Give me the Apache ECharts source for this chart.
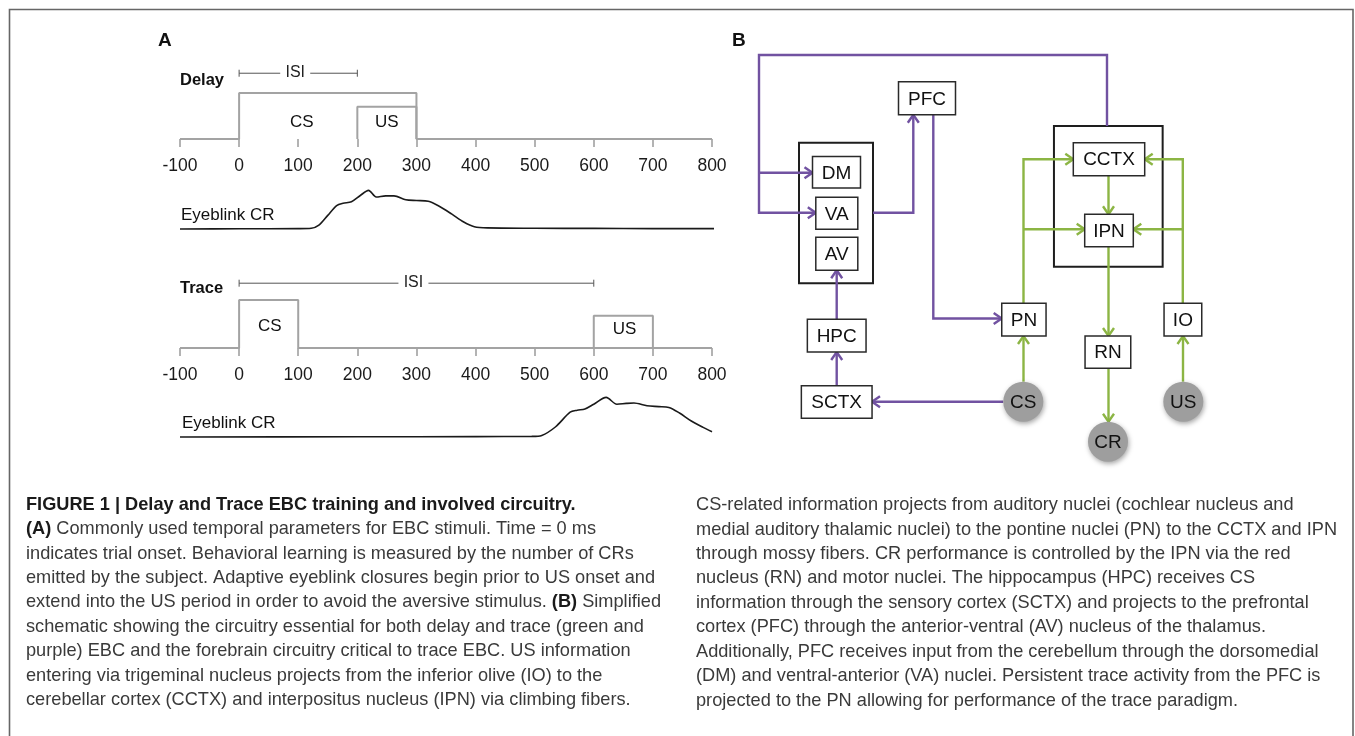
<!DOCTYPE html>
<html>
<head>
<meta charset="utf-8">
<script src="https://cdn.jsdelivr.net/npm/echarts@6/dist/echarts.min.js"></script>
<style>
html,body{margin:0;padding:0;background:#fff;}
#chart{width:1355px;height:736px;}
</style>
</head>
<body>
<div id="chart"></div>
<script>
// ---------- Panel A: stimulus timing (ms) ----------
const timeTicks = [-100, 0, 100, 200, 300, 400, 500, 600, 700, 800];
// [onset, offset, relative height]
const delayCS = [0, 300, 1];
const delayUS = [200, 300, 0.7];
const traceCS = [0, 100, 1];
const traceUS = [600, 700, 0.67];
// inter-stimulus interval brackets [start, end, height]
const delayISI = [0, 200, 1.43];
const traceISI = [0, 600, 1.35];
// stimulus names [label, time, height]
const delayLabels = [['CS', 106, 0.37], ['US', 250, 0.37]];
const traceLabels = [['CS', 52, 0.46], ['US', 652, 0.38]];
// eyelid closure (relative amplitude) over time
const delayCR = [[-100,0],[0,0.005],[100,0.01],[122,0.02],[135,0.1],[150,0.35],[165,0.6],[176,0.66],[190,0.7],[205,0.86],[219,0.99],[232,0.82],[248,0.85],[262,0.85],[282,0.75],[300,0.73],[320,0.71],[340,0.57],[360,0.38],[380,0.18],[398,0.06],[420,0.03],[500,0.02],[600,0.015],[700,0.01],[815,0.01]];
const traceCR = [[-100,0],[200,0.005],[400,0.01],[495,0.015],[512,0.04],[535,0.25],[560,0.62],[572,0.67],[585,0.7],[600,0.82],[621,0.99],[639,0.82],[655,0.84],[668,0.85],[690,0.78],[710,0.76],[727,0.74],[745,0.6],[765,0.4],[785,0.24],[800,0.13]];

// ---------- Panel B: circuit schematic ----------
// boxes [name, cx, cy, w, h]
const regionBoxes = [
  ['PFC', 187, 68.3, 57, 33],
  ['DM', 96.5, 142.3, 48, 31.5],
  ['VA', 96.8, 183.3, 42, 32],
  ['AV', 96.8, 223.7, 42, 33],
  ['CCTX', 369, 129.2, 71.4, 33],
  ['IPN', 369, 200.5, 48.6, 32.4],
  ['HPC', 96.7, 305.7, 58.7, 32.7],
  ['SCTX', 96.7, 372, 70.7, 32.6],
  ['PN', 283.9, 289.7, 44.3, 32.7],
  ['RN', 367.9, 322.2, 45.7, 32.3],
  ['IO', 442.9, 289.7, 37.7, 32.7]
];
// enclosing structures (thalamus, cerebellum) [cx, cy, w, h]
const groupBoxes = [
  [96, 183, 74, 140.6],
  [368.3, 166.3, 108.7, 140.7]
];
// stimulus / response nodes [name, cx, cy]
const ioNodes = [['CS', 283.3, 371.7], ['CR', 368, 411.7], ['US', 443.3, 371.7]];
// pathways: waypoints, pathway type, arrowhead at end
const pathways = [
  {kind: 'forebrain', arrow: true, pts: [[367,96],[367,25],[19,25],[19,182.7],[75.8,182.7]]},
  {kind: 'forebrain', arrow: true, pts: [[19,142.7],[72.5,142.7]]},
  {kind: 'forebrain', arrow: true, pts: [[133,182.7],[173.3,182.7],[173.3,84.8]]},
  {kind: 'forebrain', arrow: true, pts: [[193.3,84.8],[193.3,288.5],[261.7,288.5]]},
  {kind: 'forebrain', arrow: true, pts: [[96.7,289.3],[96.7,240.2]]},
  {kind: 'forebrain', arrow: true, pts: [[96.7,355.7],[96.7,322]]},
  {kind: 'forebrain', arrow: true, pts: [[263.3,371.7],[132,371.7]]},
  {kind: 'cerebellar', arrow: true, pts: [[283.5,351.7],[283.5,306]]},
  {kind: 'cerebellar', arrow: true, pts: [[283.5,273.3],[283.5,129.3],[333.3,129.3]]},
  {kind: 'cerebellar', arrow: true, pts: [[283.5,199.3],[344.7,199.3]]},
  {kind: 'cerebellar', arrow: true, pts: [[442.8,273.3],[442.8,129.3],[404.7,129.3]]},
  {kind: 'cerebellar', arrow: true, pts: [[442.8,199.3],[393.3,199.3]]},
  {kind: 'cerebellar', arrow: true, pts: [[368.5,145.7],[368.5,184.3]]},
  {kind: 'cerebellar', arrow: true, pts: [[368.5,216.7],[368.5,306]]},
  {kind: 'cerebellar', arrow: true, pts: [[368.5,338.3],[368.5,391.7]]},
  {kind: 'cerebellar', arrow: true, pts: [[443,351.7],[443,306]]}
];

// ---------- Caption ----------
const captionTitle = 'FIGURE 1 | Delay and Trace EBC training and involved circuitry.';
const captionLeft = [
  '{b|(A)} Commonly used temporal parameters for EBC stimuli. Time = 0 ms',
  'indicates trial onset. Behavioral learning is measured by the number of CRs',
  'emitted by the subject. Adaptive eyeblink closures begin prior to US onset and',
  'extend into the US period in order to avoid the aversive stimulus. {b|(B)} Simplified',
  'schematic showing the circuitry essential for both delay and trace (green and',
  'purple) EBC and the forebrain circuitry critical to trace EBC. US information',
  'entering via trigeminal nucleus projects from the inferior olive (IO) to the',
  'cerebellar cortex (CCTX) and interpositus nucleus (IPN) via climbing fibers.'
];
const captionRight = [
  'CS-related information projects from auditory nuclei (cochlear nucleus and',
  'medial auditory thalamic nuclei) to the pontine nuclei (PN) to the CCTX and IPN',
  'through mossy fibers. CR performance is controlled by the IPN via the red',
  'nucleus (RN) and motor nuclei. The hippocampus (HPC) receives CS',
  'information through the sensory cortex (SCTX) and projects to the prefrontal',
  'cortex (PFC) through the anterior-ventral (AV) nucleus of the thalamus.',
  'Additionally, PFC receives input from the cerebellum through the dorsomedial',
  '(DM) and ventral-anterior (VA) nuclei. Persistent trace activity from the PFC is',
  'projected to the PN allowing for performance of the trace paradigm.'
];

// ---------- helpers ----------
const FONT = '"Liberation Sans", Arial, sans-serif';
const STIM_GRAY = '#a3a3a3';
const PURPLE = '#7152a1';
const GREEN = '#8cb544';

function pulse(stim, from, to) {
  return [[from, 0], [stim[0], 0], [stim[0], stim[2]], [stim[1], stim[2]], [stim[1], 0], [to, 0]];
}
function usPulse(stim) {
  return [[stim[0], 0], [stim[0], stim[2]], [stim[1], stim[2]], [stim[1], 0]];
}

function isiSeries(isi, gridIdx) {
  return {
    type: 'custom', xAxisIndex: gridIdx, yAxisIndex: gridIdx, silent: true,
    data: [isi],
    renderItem: function (params, api) {
      const a = api.coord([api.value(0), api.value(2)]);
      const b = api.coord([api.value(1), api.value(2)]);
      const mid = (a[0] + b[0]) / 2 - 3;
      const gap = 15;
      const st = {stroke: '#555', lineWidth: 1};
      return {type: 'group', children: [
        {type: 'line', shape: {x1: a[0], y1: a[1], x2: mid - gap, y2: a[1]}, style: st},
        {type: 'line', shape: {x1: mid + gap, y1: a[1], x2: b[0], y2: b[1]}, style: st},
        {type: 'line', shape: {x1: a[0], y1: a[1] - 3.5, x2: a[0], y2: a[1] + 3.5}, style: st},
        {type: 'line', shape: {x1: b[0], y1: b[1] - 3.5, x2: b[0], y2: b[1] + 3.5}, style: st},
        {type: 'text', x: mid, y: a[1] - 1, style: {text: 'ISI', fill: '#222', font: '16px ' + FONT, align: 'center', verticalAlign: 'middle'}}
      ]};
    }
  };
}

function stimLine(data, gridIdx) {
  return {
    type: 'line', xAxisIndex: gridIdx, yAxisIndex: gridIdx, data: data,
    showSymbol: false, symbol: 'none', silent: true, animation: false,
    lineStyle: {color: STIM_GRAY, width: 2}
  };
}

function labelSeries(labels, gridIdx) {
  return {
    type: 'custom', xAxisIndex: gridIdx, yAxisIndex: gridIdx, silent: true,
    data: labels.map(l => [l[1], l[2]]),
    renderItem: function (params, api) {
      const c = api.coord([api.value(0), api.value(1)]);
      return {type: 'text', x: c[0], y: c[1], style: {text: labels[params.dataIndex][0], fill: '#111',
        font: '17px ' + FONT, align: 'center', verticalAlign: 'middle'}};
    }
  };
}

function crLine(data, gridIdx) {
  return {
    type: 'line', xAxisIndex: gridIdx, yAxisIndex: gridIdx, data: data,
    showSymbol: false, symbol: 'none', smooth: 0.3, clip: false, silent: true,
    lineStyle: {color: '#1a1a1a', width: 1.6}
  };
}

// panel A layout: four stacked strips sharing the same time scale
const A_LEFT = 180, A_WIDTH = 532;
const grids = [
  {left: A_LEFT, width: A_WIDTH, top: 70, height: 69},
  {left: A_LEFT, width: A_WIDTH, top: 190, height: 39},
  {left: A_LEFT, width: A_WIDTH, top: 276, height: 72},
  {left: A_LEFT, width: A_WIDTH, top: 397, height: 40},
  {left: 740, width: 480, top: 30, height: 440}
];

function timeAxis(gridIdx, showTicks) {
  return {
    type: 'value', gridIndex: gridIdx, min: -100, max: 800, interval: 100,
    offset: showTicks ? 5 : 0,
    axisLine: {show: false},
    axisTick: {show: showTicks, length: 8, lineStyle: {color: '#9a9a9a', width: 1.5}},
    axisLabel: {show: showTicks, margin: 13, color: '#1a1a1a', fontSize: 17.5, fontFamily: FONT,
      customValues: timeTicks, formatter: v => String(v)},
    splitLine: {show: false}
  };
}
function levelAxis(gridIdx, max) {
  return {type: 'value', gridIndex: gridIdx, min: 0, max: max, show: false, splitLine: {show: false}};
}

// schematic series
const boxSeries = {
  type: 'custom', xAxisIndex: 4, yAxisIndex: 4, silent: true,
  data: regionBoxes.map(b => [b[1], b[2], b[3], b[4]]),
  renderItem: function (params, api) {
    const c = api.coord([api.value(0), api.value(1)]);
    const s = api.size([api.value(2), api.value(3)]);
    return {type: 'group', children: [
      {type: 'rect', shape: {x: c[0] - s[0] / 2, y: c[1] - s[1] / 2, width: s[0], height: s[1]},
        style: {fill: '#fff', stroke: '#2a2a2a', lineWidth: 1.5}},
      {type: 'text', x: c[0], y: c[1] + 1, style: {text: regionBoxes[params.dataIndex][0], fill: '#111',
        font: '19px ' + FONT, align: 'center', verticalAlign: 'middle'}}
    ]};
  }
};
const groupSeries = {
  type: 'custom', xAxisIndex: 4, yAxisIndex: 4, silent: true, z: 1,
  data: groupBoxes,
  renderItem: function (params, api) {
    const c = api.coord([api.value(0), api.value(1)]);
    const s = api.size([api.value(2), api.value(3)]);
    return {type: 'rect', shape: {x: c[0] - s[0] / 2, y: c[1] - s[1] / 2, width: s[0], height: s[1]},
      style: {fill: null, stroke: '#1e1e1e', lineWidth: 2}};
  }
};
const nodeSeries = {
  type: 'custom', xAxisIndex: 4, yAxisIndex: 4, silent: true, z: 3,
  data: ioNodes.map(n => [n[1], n[2]]),
  renderItem: function (params, api) {
    const c = api.coord([api.value(0), api.value(1)]);
    const r = api.size([20, 20])[0];
    return {type: 'group', children: [
      {type: 'circle', shape: {cx: c[0], cy: c[1], r: r},
        style: {fill: '#9e9e9e', shadowBlur: 5, shadowColor: 'rgba(0,0,0,0.35)', shadowOffsetX: 1, shadowOffsetY: 2}},
      {type: 'text', x: c[0], y: c[1] + 1, style: {text: ioNodes[params.dataIndex][0], fill: '#111',
        font: '19px ' + FONT, align: 'center', verticalAlign: 'middle'}}
    ]};
  }
};
const pathSeries = {
  type: 'custom', xAxisIndex: 4, yAxisIndex: 4, silent: true, z: 2,
  data: pathways.map(p => p.pts[0]),
  renderItem: function (params, api) {
    const p = pathways[params.dataIndex];
    const color = p.kind === 'forebrain' ? PURPLE : GREEN;
    const pts = p.pts.map(q => api.coord(q));
    const kids = [{type: 'polyline', shape: {points: pts}, style: {stroke: color, lineWidth: 2.4, fill: null}}];
    if (p.arrow) {
      const a = pts[pts.length - 2], b = pts[pts.length - 1];
      const dx = b[0] - a[0], dy = b[1] - a[1];
      const len = Math.hypot(dx, dy);
      const ux = dx / len, uy = dy / len;
      const L = 8, W = 5.5;
      kids.push({type: 'polyline', shape: {points: [
        [b[0] - ux * L - uy * W, b[1] - uy * L + ux * W], [b[0], b[1]], [b[0] - ux * L + uy * W, b[1] - uy * L - ux * W]
      ]}, style: {stroke: color, lineWidth: 2.4, fill: null, lineJoin: 'miter'}});
    }
    return {type: 'group', children: kids};
  }
};

// caption text width fitting (condensed caption face)
const CAP_FONT_SIZE = 18.5;
const measureCtx = document.createElement('canvas').getContext('2d');
measureCtx.font = CAP_FONT_SIZE + 'px "Liberation Sans"';
const capScale = 629 / measureCtx.measureText(captionLeft[2]).width;
const capRich = {
  b: {fontWeight: 'bold', fontSize: CAP_FONT_SIZE, fontFamily: FONT, fill: '#1a1a1a'}
};
function captionLine(text, x, y, bold) {
  return {
    type: 'text', x: x, y: y, scaleX: capScale, silent: true,
    style: {text: text, fill: bold ? '#1a1a1a' : '#3a3a3a', fontSize: CAP_FONT_SIZE, fontFamily: FONT,
      fontWeight: bold ? 'bold' : 'normal', verticalAlign: 'middle', rich: capRich}
  };
}
const LINE_STEP = 24.45;
const graphics = [
  {type: 'rect', silent: true, shape: {x: 9.5, y: 9.5, width: 1343.5, height: 760},
    style: {fill: null, stroke: '#666', lineWidth: 1.6}},
  {type: 'text', x: 158, y: 41, silent: true, style: {text: 'A', font: 'bold 19px ' + FONT, fill: '#111', verticalAlign: 'middle'}},
  {type: 'text', x: 732, y: 41, silent: true, style: {text: 'B', font: 'bold 19px ' + FONT, fill: '#111', verticalAlign: 'middle'}},
  {type: 'text', x: 180, y: 80, silent: true, style: {text: 'Delay', font: 'bold 16.5px ' + FONT, fill: '#111', verticalAlign: 'middle'}},
  {type: 'text', x: 180, y: 288, silent: true, style: {text: 'Trace', font: 'bold 16.5px ' + FONT, fill: '#111', verticalAlign: 'middle'}},
  {type: 'text', x: 181, y: 215, silent: true, style: {text: 'Eyeblink CR', font: '17px ' + FONT, fill: '#111', verticalAlign: 'middle'}},
  {type: 'text', x: 182, y: 423, silent: true, style: {text: 'Eyeblink CR', font: '17px ' + FONT, fill: '#111', verticalAlign: 'middle'}},
  captionLine(captionTitle, 26, 505, true)
];
captionLeft.forEach((t, i) => graphics.push(captionLine(t, 26, 529 + i * LINE_STEP, false)));
captionRight.forEach((t, i) => graphics.push(captionLine(t, 696, 505 + i * LINE_STEP, false)));

const chart = echarts.init(document.getElementById('chart'), null, {renderer: 'canvas'});
chart.setOption({
  animation: false,
  backgroundColor: '#fff',
  grid: grids,
  xAxis: [timeAxis(0, true), timeAxis(1, false), timeAxis(2, true), timeAxis(3, false),
    {type: 'value', gridIndex: 4, min: 0, max: 480, show: false, splitLine: {show: false}}],
  yAxis: [levelAxis(0, 1.5), levelAxis(1, 1), levelAxis(2, 1.5), levelAxis(3, 1),
    {type: 'value', gridIndex: 4, min: 0, max: 440, inverse: true, show: false, splitLine: {show: false}}],
  series: [
    stimLine(pulse(delayCS, -100, 800), 0),
    stimLine(usPulse(delayUS), 0),
    isiSeries(delayISI, 0),
    labelSeries(delayLabels, 0),
    crLine(delayCR, 1),
    stimLine(pulse(traceCS, -100, 800), 2),
    stimLine(usPulse(traceUS), 2),
    isiSeries(traceISI, 2),
    labelSeries(traceLabels, 2),
    crLine(traceCR, 3),
    groupSeries, pathSeries, boxSeries, nodeSeries
  ],
  graphic: graphics
});
</script>
</body>
</html>
